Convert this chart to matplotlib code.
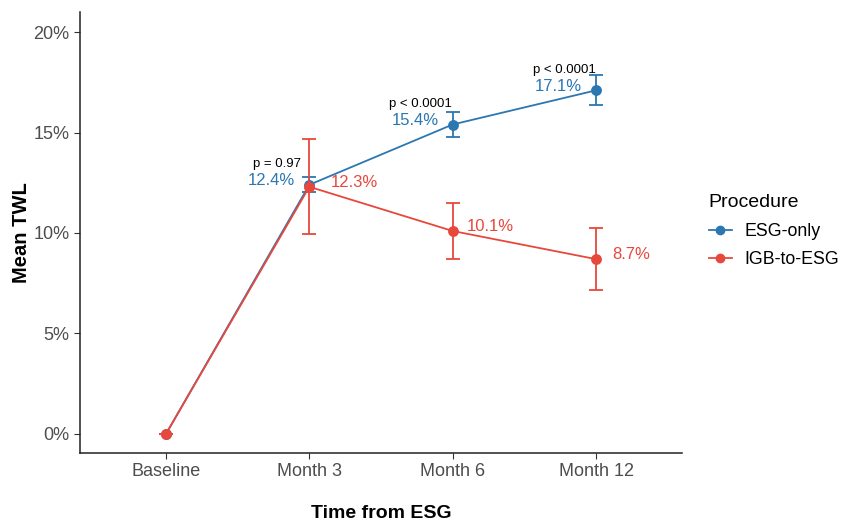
import matplotlib
matplotlib.use("Agg")
import matplotlib.pyplot as plt
from matplotlib.ticker import FuncFormatter
from matplotlib.lines import Line2D

timepoints = ["Baseline", "Month 3", "Month 6", "Month 12"]
esg_mean = [0.0, 12.4, 15.4, 17.1]
esg_err = [0.0, 0.38, 0.6, 0.75]
igb_mean = [0.0, 12.3, 10.1, 8.7]
igb_err = [0.0, 2.37, 1.37, 1.55]
pvalues = ["", "p = 0.97", "p < 0.0001", "p < 0.0001"]
series_names = ["ESG-only", "IGB-to-ESG"]

blue = "#2b77b1"
red = "#e8483b"

plt.rcParams['font.family'] = ['Liberation Sans', 'DejaVu Sans']
fig = plt.figure(figsize=(8.42, 5.21), dpi=100)
ax = fig.add_axes([0.095, 0.1305, 0.715, 0.8465])

x = list(range(1, len(timepoints) + 1))

ax.errorbar(x, esg_mean, yerr=esg_err, color=blue, lw=1.3, marker='o', ms=6.8,
            capsize=5, capthick=1.3, elinewidth=1.3, zorder=3)
ax.errorbar(x, igb_mean, yerr=igb_err, color=red, lw=1.3, marker='o', ms=6.8,
            capsize=5, capthick=1.3, elinewidth=1.3, zorder=4)

red_dx = [0, 15.5, 10, 12]  # points
for i in range(1, len(x)):
    ax.annotate(f"{esg_mean[i]:.1f}%", (x[i], esg_mean[i]), xytext=(-27, 3),
                textcoords='offset points', ha='center', va='center', color=blue, fontsize=12)
    ax.annotate(pvalues[i], (x[i], esg_mean[i]), xytext=(-23, 15),
                textcoords='offset points', ha='center', va='center', color='black', fontsize=9.5)
    ax.annotate(f"{igb_mean[i]:.1f}%", (x[i], igb_mean[i]), xytext=(red_dx[i], 3),
                textcoords='offset points', ha='left', va='center', color=red, fontsize=12)

ax.set_xlim(0.4, 4.6)
ax.set_ylim(-0.95, 21.0)
ax.set_xticks(x)
ax.set_xticklabels(timepoints)
ax.set_yticks([0, 5, 10, 15, 20])
ax.yaxis.set_major_formatter(FuncFormatter(lambda v, p: f"{v:.0f}%"))
ax.tick_params(axis='both', colors='#333333', labelcolor='#4d4d4d', labelsize=13, length=4)
for s in ['top', 'right']:
    ax.spines[s].set_visible(False)
for s in ['left', 'bottom']:
    ax.spines[s].set_color('#222222')
    ax.spines[s].set_linewidth(1.1)

ax.set_xlabel("Time from ESG", fontsize=14, fontweight='bold')
ax.set_ylabel("Mean TWL", fontsize=14.5, fontweight='bold')
ax.xaxis.set_label_coords(0.5, -0.118)
ax.yaxis.set_label_coords(-0.081, 0.5)

handles = [Line2D([0], [0], color=blue, marker='o', ms=6, lw=1.3),
           Line2D([0], [0], color=red, marker='o', ms=6, lw=1.3)]
leg = fig.legend(handles, series_names, title="Procedure", loc='center left',
                 bbox_to_anchor=(0.831, 0.557), frameon=False, fontsize=12.8,
                 title_fontsize=14, handlelength=1.3, labelspacing=0.6,
                 borderpad=0, handletextpad=0.7, alignment='left')
leg._legend_box.sep = 9

fig.savefig("out.png", dpi=100)
